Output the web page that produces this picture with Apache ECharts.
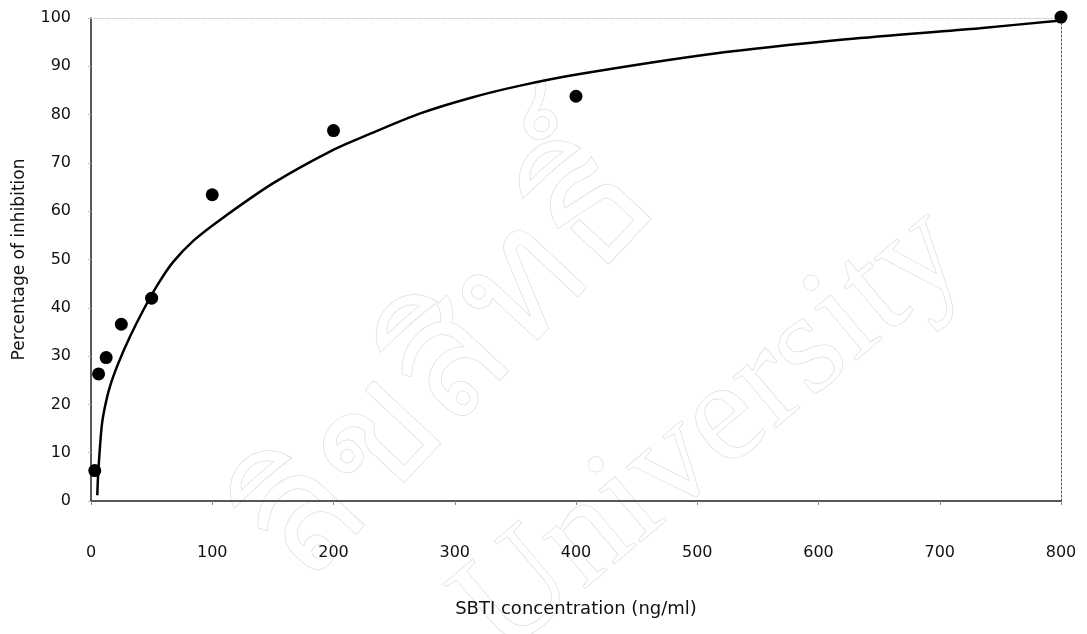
<!DOCTYPE html>
<html>
<head>
<meta charset="utf-8">
<title>SBTI inhibition</title>
<script src="https://cdn.jsdelivr.net/npm/echarts@6/dist/echarts.min.js"></script>
<style>
  html, body { margin: 0; padding: 0; background: #fff; }
  #chart { width: 1087px; height: 634px; }
</style>
</head>
<body>
<div id="chart"></div>
<script>
// Measured inhibition at each SBTI concentration (ng/ml)
const concentration = [3.125, 6.25, 12.5, 25, 50, 100, 200, 400, 800];
const inhibition = [6.3, 26.3, 29.7, 36.6, 42.0, 63.4, 76.7, 83.8, 100.2];

// Fitted curve, sampled along its length
const curveX = [5.2, 6.0, 8.8, 11.5, 15.6, 22.5, 32.1, 43.1, 55.5, 67.8, 85, 106.4, 150.3, 199.8, 230, 271, 312, 354, 403, 513, 623, 733, 800];
const curveY = [1.2, 6.0, 15.4, 19.5, 23.7, 28.5, 34.0, 39.5, 45.0, 49.5, 54.0, 58.2, 65.8, 72.7, 76.0, 80.2, 83.4, 86.0, 88.4, 92.6, 95.6, 97.9, 99.5];

// Axis ranges and titles
const xTicks = { min: 0, max: 800, step: 100 };
const yTicks = { min: 0, max: 100, step: 10 };
const xTitle = 'SBTI concentration (ng/ml)';
const yTitle = 'Percentage of inhibition';
const watermarkWords = ['ลิขสิทธิ์', 'University'];

const font = "'DejaVu Sans', 'Liberation Sans', Arial, sans-serif";
const chart = echarts.init(document.getElementById('chart'));

const points = concentration.map((c, i) => [c, inhibition[i]]);
const curve = curveX.map((x, i) => [x, curveY[i]]);

// Plain axis used only to draw the dotted frame on the top and right
const frameAxis = (extra) => Object.assign({
  type: 'value',
  axisLabel: { show: false },
  axisTick: { show: false },
  splitLine: { show: false }
}, extra);

const outline = { fill: 'rgba(0,0,0,0)', stroke: '#dedede', lineWidth: 0.7, align: 'center', verticalAlign: 'middle' };

chart.setOption({
  backgroundColor: '#ffffff',
  animation: false,
  graphic: [
    {
      type: 'text', z: 0, silent: true,
      x: 450, y: 365, rotation: 0.82,
      style: Object.assign({ text: watermarkWords[0], font: "165px 'Noto Sans', 'DejaVu Sans', sans-serif" }, outline)
    },
    {
      type: 'text', z: 0, silent: true,
      x: 712, y: 432, rotation: 0.70,
      style: Object.assign({ text: watermarkWords[1], font: "145px 'Liberation Serif', 'DejaVu Serif', serif" }, outline)
    }
  ],
  grid: { left: 91, right: 26, top: 18, bottom: 133, containLabel: false },
  xAxis: [
    {
      type: 'value',
      min: xTicks.min, max: xTicks.max, interval: xTicks.step,
      name: xTitle, nameLocation: 'middle', nameGap: 99,
      nameTextStyle: { fontFamily: font, fontSize: 18, color: '#111' },
      axisLine: { show: true, onZero: false, lineStyle: { color: '#222', width: 1.5 } },
      axisTick: { show: true, length: 4, lineStyle: { color: '#888' } },
      axisLabel: { margin: 44, fontFamily: font, fontSize: 16, color: '#111' },
      splitLine: { show: false }
    },
    frameAxis({
      position: 'top', min: xTicks.min, max: xTicks.max,
      axisLine: { show: true, onZero: false, lineStyle: { color: '#bdbdbd', width: 1, type: [1, 2] } }
    })
  ],
  yAxis: [
    {
      type: 'value',
      min: yTicks.min, max: yTicks.max, interval: yTicks.step,
      name: yTitle, nameLocation: 'middle', nameGap: 63, nameRotate: 90,
      nameTextStyle: { fontFamily: font, fontSize: 17, color: '#111' },
      axisLine: { show: true, onZero: false, lineStyle: { color: '#222', width: 1.5 } },
      axisTick: { show: true, length: 3, lineStyle: { color: '#bbb' } },
      axisLabel: { margin: 20, fontFamily: font, fontSize: 16, color: '#111' },
      splitLine: { show: false }
    },
    frameAxis({
      position: 'right', min: yTicks.min, max: yTicks.max,
      axisLine: { show: true, onZero: false, lineStyle: { color: '#555', width: 1, type: [2, 2] } }
    })
  ],
  series: [
    {
      type: 'line',
      data: curve,
      xAxisIndex: 0, yAxisIndex: 0,
      smooth: 0.3,
      showSymbol: false,
      clip: false,
      lineStyle: { color: '#000', width: 2.5 },
      z: 3
    },
    {
      type: 'scatter',
      data: points,
      xAxisIndex: 0, yAxisIndex: 0,
      symbol: 'circle',
      symbolSize: 13,
      clip: false,
      itemStyle: { color: '#000', opacity: 1 },
      z: 4
    }
  ]
});
</script>
</body>
</html>
